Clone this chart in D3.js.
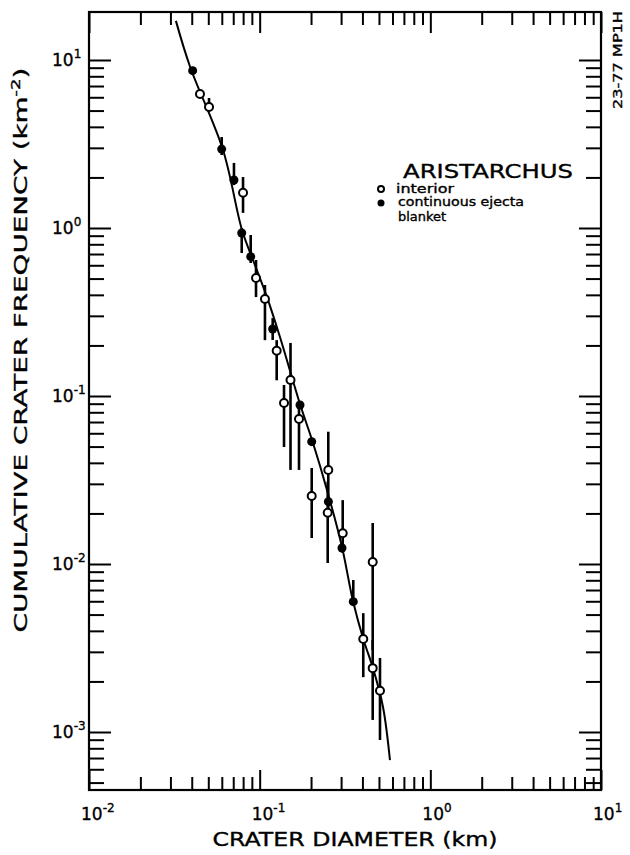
<!DOCTYPE html>
<html>
<head>
<meta charset="utf-8">
<script src="https://cdn.jsdelivr.net/npm/d3@7/dist/d3.min.js"></script>
<style>
  body { margin: 0; background: #fff; }
  text { font-family: "DejaVu Sans", "Liberation Sans", sans-serif; fill: #000; stroke: #000; stroke-width: 0.35; }
</style>
</head>
<body>
<svg id="chart" width="630" height="855"></svg>
<script>
// interior craters (open circles)
const interiorDiam = [0.0447, 0.0505, 0.0799, 0.0952, 0.1074, 0.1258, 0.1516, 0.1389, 0.1700, 0.2524, 0.2018, 0.2504, 0.3066, 0.4595, 0.4046, 0.4595, 0.5070];
const interiorFreq = [6.28, 5.25, 1.62, 0.504, 0.378, 0.186, 0.1245, 0.0908, 0.0730, 0.0363, 0.0254, 0.0202, 0.01523, 0.01028, 0.00358, 0.0024, 0.00176];
const interiorHi   = [null, 5.94, 2.01, 0.645, 0.458, 0.215, 0.207, 0.1163, 0.0884, 0.0613, 0.0373, 0.0309, 0.024, 0.01754, 0.0051, 0.00353, 0.00276];
const interiorLo   = [null, 5.25, 1.23, 0.388, 0.215, 0.124, 0.0363, 0.0497, 0.0363, 0.021, 0.01428, 0.01014, 0.01163, 0.003077, 0.00212, 0.00118, 0.000896];

// continuous ejecta blanket (filled circles)
const ejectaDiam = [0.0405, 0.0599, 0.0707, 0.0785, 0.0886, 0.1192, 0.1723, 0.2018, 0.2527, 0.3037, 0.3536];
const ejectaFreq = [8.64, 2.95, 1.93, 0.934, 0.675, 0.2505, 0.0884, 0.0535, 0.0235, 0.01245, 0.00597];
const ejectaHi   = [null, 3.48, 2.44, 1.0, 0.908, 0.291, null, null, null, null, 0.00803];
const ejectaLo   = [null, 2.72, 1.80, 0.71, 0.619, 0.2155, null, null, null, null, 0.00597];

// hand-drawn fit curve
const fitDiam = [0.0323, 0.0391, 0.0610, 0.0788, 0.0914, 0.1104, 0.1315, 0.1723, 0.2054, 0.2480, 0.3037, 0.3522, 0.4046, 0.4613, 0.528, 0.580];
const fitFreq = [17.1, 9.12, 2.91, 0.973, 0.645, 0.388, 0.2245, 0.0896, 0.0525, 0.0276, 0.01262, 0.00602, 0.00358, 0.0024, 0.00141, 0.000681];

const xTickExps = [-2, -1, 0, 1];
const yTickExps = [1, 0, -1, -2, -3];

const svg = d3.select("#chart");
const mLeft = 89, mRight = 601, mTop = 12, mBottom = 790;

const x = d3.scaleLog().domain([0.01, 10]).range([mLeft, mRight]);
const y = d3.scaleLog().domain([Math.pow(10, -3.3452), Math.pow(10, 1.2857)]).range([mBottom, mTop]);

// minor + major tick values
const minorX = [], minorY = [];
for (let e = -2; e < 1; e++) for (let m = 2; m <= 9; m++) minorX.push(m * Math.pow(10, e));
for (let e = -4; e < 2; e++) for (let m = 2; m <= 9; m++) {
  const v = m * Math.pow(10, e);
  if (v > y.domain()[0] && v < y.domain()[1]) minorY.push(v);
}
const majorX = xTickExps.map(e => Math.pow(10, e));
const majorY = yTickExps.map(e => Math.pow(10, e));

const tickAxis = (axisFn, scale, vals, size, tr) => {
  const g = svg.append("g")
    .attr("transform", tr)
    .call(axisFn(scale).tickValues(vals).tickSize(size).tickFormat(""));
  g.select(".domain").remove();
  g.selectAll(".tick line").attr("stroke", "#000").attr("stroke-width", 2);
  return g;
};

// ticks point into the plot on all four sides
tickAxis(d3.axisBottom, x, minorX, -13, `translate(0,${mBottom})`);
tickAxis(d3.axisBottom, x, majorX, -20, `translate(0,${mBottom})`);
tickAxis(d3.axisTop, x, minorX, -13, `translate(0,${mTop})`);
tickAxis(d3.axisTop, x, majorX, -21, `translate(0,${mTop})`);
tickAxis(d3.axisLeft, y, minorY, -15, `translate(${mLeft},0)`);
tickAxis(d3.axisLeft, y, majorY, -22, `translate(${mLeft},0)`);
tickAxis(d3.axisRight, y, minorY, -15, `translate(${mRight},0)`);
tickAxis(d3.axisRight, y, majorY, -22, `translate(${mRight},0)`);

// frame
svg.append("rect")
  .attr("x", mLeft).attr("y", mTop)
  .attr("width", mRight - mLeft).attr("height", mBottom - mTop)
  .attr("fill", "none").attr("stroke", "#000").attr("stroke-width", 2.2);

// tick labels with superscript exponents
const powLabel = (sel, e) => {
  sel.append("tspan").text("10");
  sel.append("tspan").attr("dy", -8).attr("font-size", 12).text(e);
};
xTickExps.forEach(e => {
  svg.append("text")
    .attr("x", x(Math.pow(10, e)) - 8)
    .attr("y", mBottom + 30)
    .attr("font-size", 17)
    .call(powLabel, e);
});
yTickExps.forEach(e => {
  svg.append("text")
    .attr("x", 52)
    .attr("y", y(Math.pow(10, e)) + 6)
    .attr("font-size", 17)
    .call(powLabel, e);
});

// axis titles (lettering is wide, so stretch along the baseline)
svg.append("text")
  .attr("x", (mLeft + mRight) / 2 + 10).attr("y", 846)
  .attr("text-anchor", "middle")
  .attr("font-size", 19)
  .attr("textLength", 285).attr("lengthAdjust", "spacingAndGlyphs")
  .text("CRATER  DIAMETER (km)");

const yt = svg.append("text")
  .attr("transform", "translate(27,350) rotate(-90) scale(1.5,1)")
  .attr("text-anchor", "middle")
  .attr("font-size", 18.5);
yt.append("tspan").text("CUMULATIVE CRATER FREQUENCY (km");
yt.append("tspan").attr("dy", -7).attr("font-size", 12).text("-2");
yt.append("tspan").attr("dy", 7).text(")");

// fit curve
svg.append("path")
  .datum(d3.zip(fitDiam, fitFreq))
  .attr("fill", "none").attr("stroke", "#000").attr("stroke-width", 2)
  .attr("d", d3.line().x(d => x(d[0])).y(d => y(d[1])).curve(d3.curveCatmullRom));

// error bars
const bars = (diam, hi, lo) => d3.range(diam.length)
  .filter(i => hi[i] != null)
  .map(i => [diam[i], hi[i], lo[i]]);
svg.append("g").selectAll("line")
  .data(bars(interiorDiam, interiorHi, interiorLo).concat(bars(ejectaDiam, ejectaHi, ejectaLo)))
  .join("line")
  .attr("x1", d => x(d[0])).attr("x2", d => x(d[0]))
  .attr("y1", d => y(d[1])).attr("y2", d => y(d[2]))
  .attr("stroke", "#000").attr("stroke-width", 2.6);

// points
svg.append("g").selectAll("circle")
  .data(d3.zip(ejectaDiam, ejectaFreq))
  .join("circle")
  .attr("cx", d => x(d[0])).attr("cy", d => y(d[1]))
  .attr("r", 4.5).attr("fill", "#000");
svg.append("g").selectAll("circle")
  .data(d3.zip(interiorDiam, interiorFreq))
  .join("circle")
  .attr("cx", d => x(d[0])).attr("cy", d => y(d[1]))
  .attr("r", 4).attr("fill", "#fff").attr("stroke", "#000").attr("stroke-width", 2);

// legend
const lg = svg.append("g");
lg.append("text").attr("x", 403).attr("y", 178).attr("font-size", 19)
  .attr("textLength", 170).attr("lengthAdjust", "spacingAndGlyphs")
  .text("ARISTARCHUS");
lg.append("circle").attr("cx", 381).attr("cy", 189).attr("r", 3)
  .attr("fill", "#fff").attr("stroke", "#000").attr("stroke-width", 2);
lg.append("circle").attr("cx", 381).attr("cy", 203).attr("r", 3.5).attr("fill", "#000");
lg.append("text").attr("x", 396).attr("y", 193).attr("font-size", 12)
  .attr("textLength", 58).attr("lengthAdjust", "spacingAndGlyphs").text("interior");
lg.append("text").attr("x", 398).attr("y", 205.5).attr("font-size", 12)
  .attr("textLength", 126).attr("lengthAdjust", "spacingAndGlyphs").text("continuous ejecta");
lg.append("text").attr("x", 398).attr("y", 220.5).attr("font-size", 12)
  .attr("textLength", 48).attr("lengthAdjust", "spacingAndGlyphs").text("blanket");

// plate number on the right margin
svg.append("text")
  .attr("transform", "translate(622,60) rotate(-90)")
  .attr("text-anchor", "middle")
  .attr("font-size", 13)
  .attr("textLength", 98).attr("lengthAdjust", "spacingAndGlyphs")
  .text("23-77 MP1H");
</script>
</body>
</html>
